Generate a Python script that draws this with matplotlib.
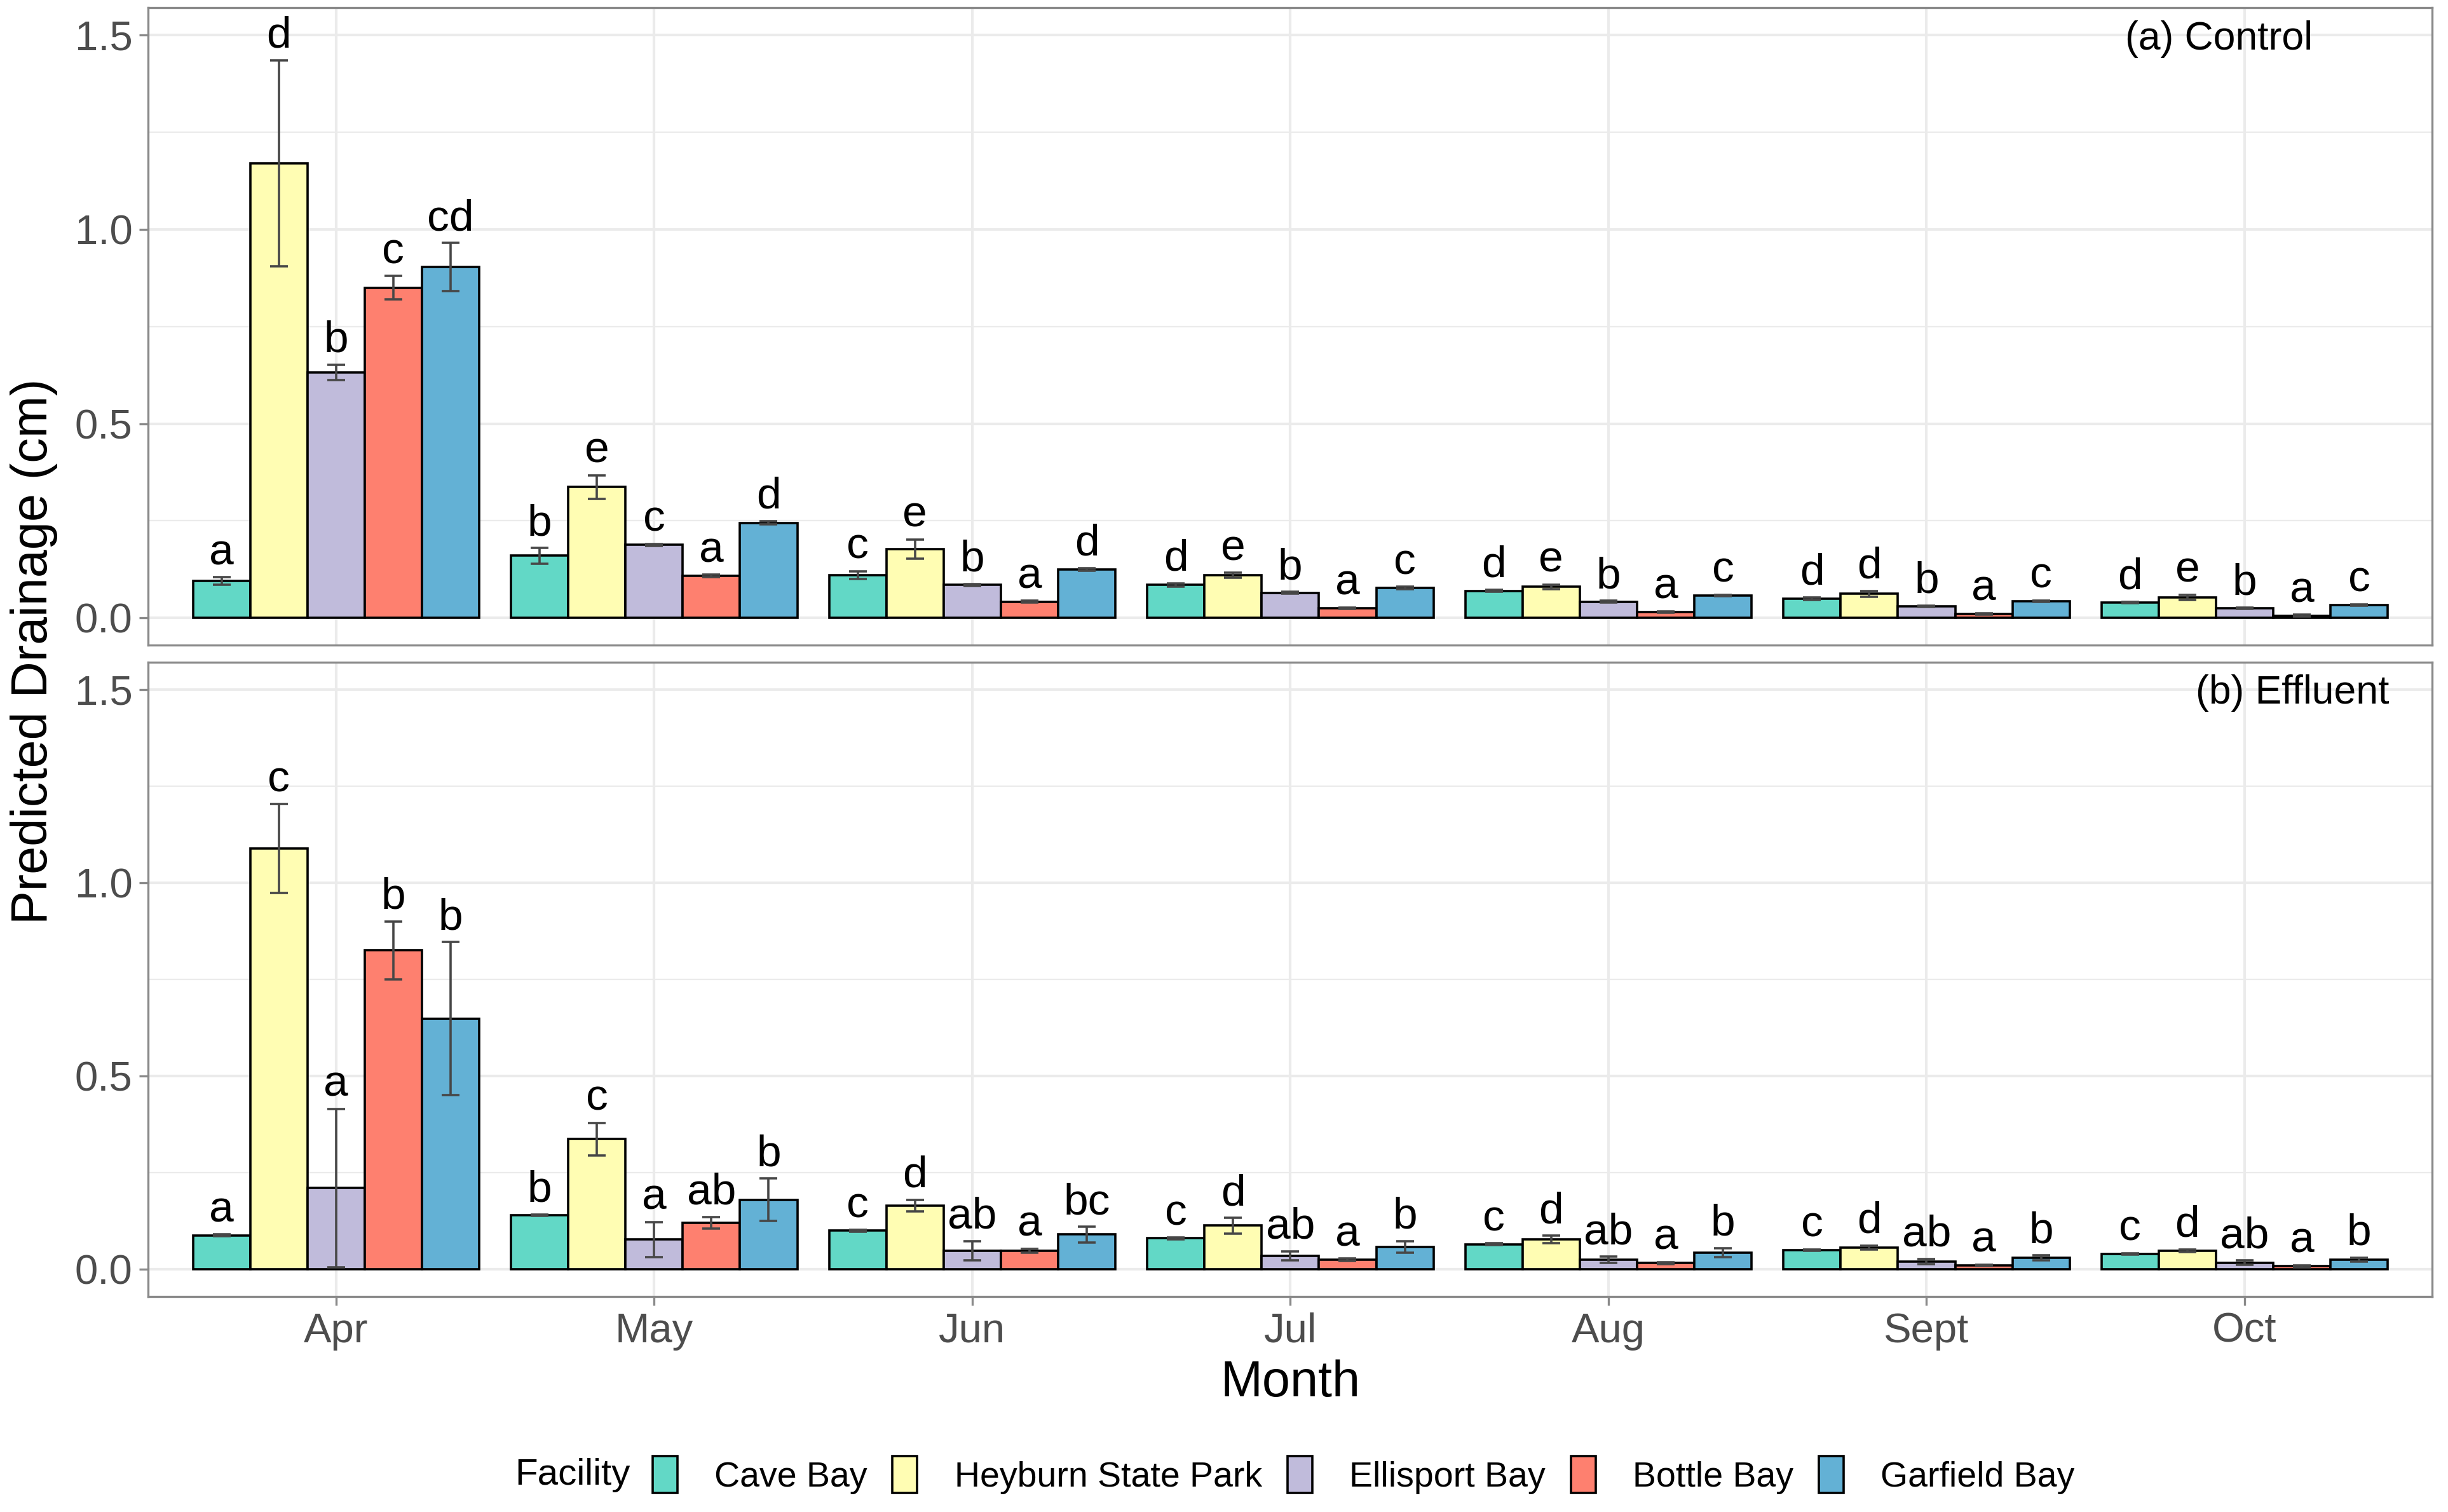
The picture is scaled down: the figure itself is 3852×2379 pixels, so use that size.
import matplotlib

matplotlib.use("Agg")

import matplotlib.pyplot as plt
import numpy as np
from matplotlib.patches import Patch

plt.rcParams["font.family"] = ["Liberation Sans", "DejaVu Sans"]

MONTHS = ["Apr", "May", "Jun", "Jul", "Aug", "Sept", "Oct"]
FACILITIES = ["Cave Bay", "Heyburn State Park", "Ellisport Bay", "Bottle Bay", "Garfield Bay"]
COLORS = ["#62D8C6", "#FFFDB3", "#C0BBDB", "#FE806F", "#63B1D5"]

# Control: rows = facility, cols = month
control_mean = [
    [0.095, 0.160, 0.110, 0.085, 0.070, 0.050, 0.040],
    [1.170, 0.337, 0.177, 0.110, 0.080, 0.062, 0.053],
    [0.632, 0.188, 0.085, 0.065, 0.042, 0.030, 0.025],
    [0.850, 0.108, 0.042, 0.025, 0.015, 0.010, 0.006],
    [0.903, 0.245, 0.125, 0.077, 0.058, 0.043, 0.033],
]
control_err = [
    [0.010, 0.020, 0.010, 0.004, 0.003, 0.003, 0.002],
    [0.265, 0.030, 0.025, 0.006, 0.006, 0.008, 0.007],
    [0.020, 0.003, 0.003, 0.002, 0.002, 0.002, 0.002],
    [0.030, 0.003, 0.002, 0.002, 0.002, 0.002, 0.002],
    [0.062, 0.004, 0.003, 0.003, 0.002, 0.002, 0.002],
]
control_letters = [
    ["a", "b", "c", "d", "d", "d", "d"],
    ["d", "e", "e", "e", "e", "d", "e"],
    ["b", "c", "b", "b", "b", "b", "b"],
    ["c", "a", "a", "a", "a", "a", "a"],
    ["cd", "d", "d", "c", "c", "c", "c"],
]

# Effluent
effluent_mean = [
    [0.088, 0.140, 0.100, 0.080, 0.065, 0.050, 0.040],
    [1.088, 0.337, 0.165, 0.113, 0.077, 0.056, 0.048],
    [0.210, 0.077, 0.048, 0.035, 0.025, 0.020, 0.017],
    [0.825, 0.120, 0.048, 0.025, 0.016, 0.010, 0.008],
    [0.648, 0.180, 0.090, 0.058, 0.043, 0.030, 0.025],
]
effluent_err = [
    [0.002, 0.002, 0.002, 0.002, 0.002, 0.002, 0.002],
    [0.115, 0.042, 0.015, 0.020, 0.010, 0.005, 0.004],
    [0.205, 0.045, 0.025, 0.012, 0.008, 0.007, 0.006],
    [0.075, 0.015, 0.005, 0.003, 0.003, 0.002, 0.002],
    [0.198, 0.055, 0.020, 0.015, 0.012, 0.006, 0.005],
]
effluent_letters = [
    ["a", "b", "c", "c", "c", "c", "c"],
    ["c", "c", "d", "d", "d", "d", "d"],
    ["a", "a", "ab", "ab", "ab", "ab", "ab"],
    ["b", "ab", "a", "a", "a", "a", "a"],
    ["b", "b", "bc", "b", "b", "b", "b"],
]

PANEL_LABELS = ["(a) Control", "(b) Effluent"]

GRID = "#EBEBEB"
BORDER = "#8A8A8A"
TICK_TEXT = "#4D4D4D"
BAR_W = 0.18


def draw_panel(ax, means, errs, letters, label, label_x, show_x):
    x = np.arange(len(MONTHS))
    ax.set_axisbelow(True)
    for j, name in enumerate(FACILITIES):
        pos = x + (j - 2) * BAR_W
        m = np.array(means[j])
        e = np.array(errs[j])
        ax.bar(pos, m, width=BAR_W, color=COLORS[j], edgecolor="black", linewidth=2.6, zorder=2)
        ax.errorbar(pos, m, yerr=e, fmt="none", ecolor="#474747", elinewidth=2.6,
                    capsize=10, capthick=2.6, zorder=3)
        for px, top, lab in zip(pos, m + e, letters[j]):
            ax.text(px, top + 0.01, lab, ha="center", va="bottom", fontsize=50, zorder=4)

    ax.text(label_x, 1.49, label, ha="center", va="center", fontsize=45)

    ax.set_xlim(-0.59, 6.59)
    ax.set_ylim(-0.07, 1.57)
    ax.set_yticks([0.0, 0.5, 1.0, 1.5])
    ax.set_yticklabels(["0.0", "0.5", "1.0", "1.5"])
    ax.set_yticks([0.25, 0.75, 1.25], minor=True)
    ax.set_xticks(x)
    ax.grid(which="major", color=GRID, linewidth=3)
    ax.grid(which="minor", axis="y", color=GRID, linewidth=1.6)
    ax.tick_params(axis="y", which="minor", length=0)
    ax.tick_params(axis="both", which="major", colors=BORDER, labelcolor=TICK_TEXT,
                   labelsize=47, length=10, width=2.4, pad=8)
    if show_x:
        ax.set_xticklabels(MONTHS)
    else:
        ax.tick_params(axis="x", length=0, labelbottom=False)
    for sp in ax.spines.values():
        sp.set_color(BORDER)
        sp.set_linewidth(2.4)


fig = plt.figure(figsize=(38.52, 23.79), dpi=100)
ax_top = fig.add_axes([0.0606, 0.5733, 0.9330, 0.4215])
ax_bot = fig.add_axes([0.0606, 0.1426, 0.9330, 0.4194])

draw_panel(ax_top, control_mean, control_err, control_letters, PANEL_LABELS[0], 5.92, False)
draw_panel(ax_bot, effluent_mean, effluent_err, effluent_letters, PANEL_LABELS[1], 6.15, True)

ax_bot.set_xlabel("Month", fontsize=57, labelpad=10)
fig.text(0.014, 0.569, "Predicted Drainage (cm)", rotation=90, ha="center", va="center", fontsize=57)

handles = [Patch(facecolor=c, edgecolor="black", linewidth=2.6) for c in COLORS]
fig.legend(handles, FACILITIES, loc="center", bbox_to_anchor=(0.557, 0.0245), ncol=5,
           frameon=False, fontsize=40, handlelength=0.7, handleheight=1.25,
           handletextpad=1.05, columnspacing=0.72)
fig.text(0.234, 0.0245, "Facility", ha="center", va="center", fontsize=42)

fig.savefig("out.png", dpi=100)
